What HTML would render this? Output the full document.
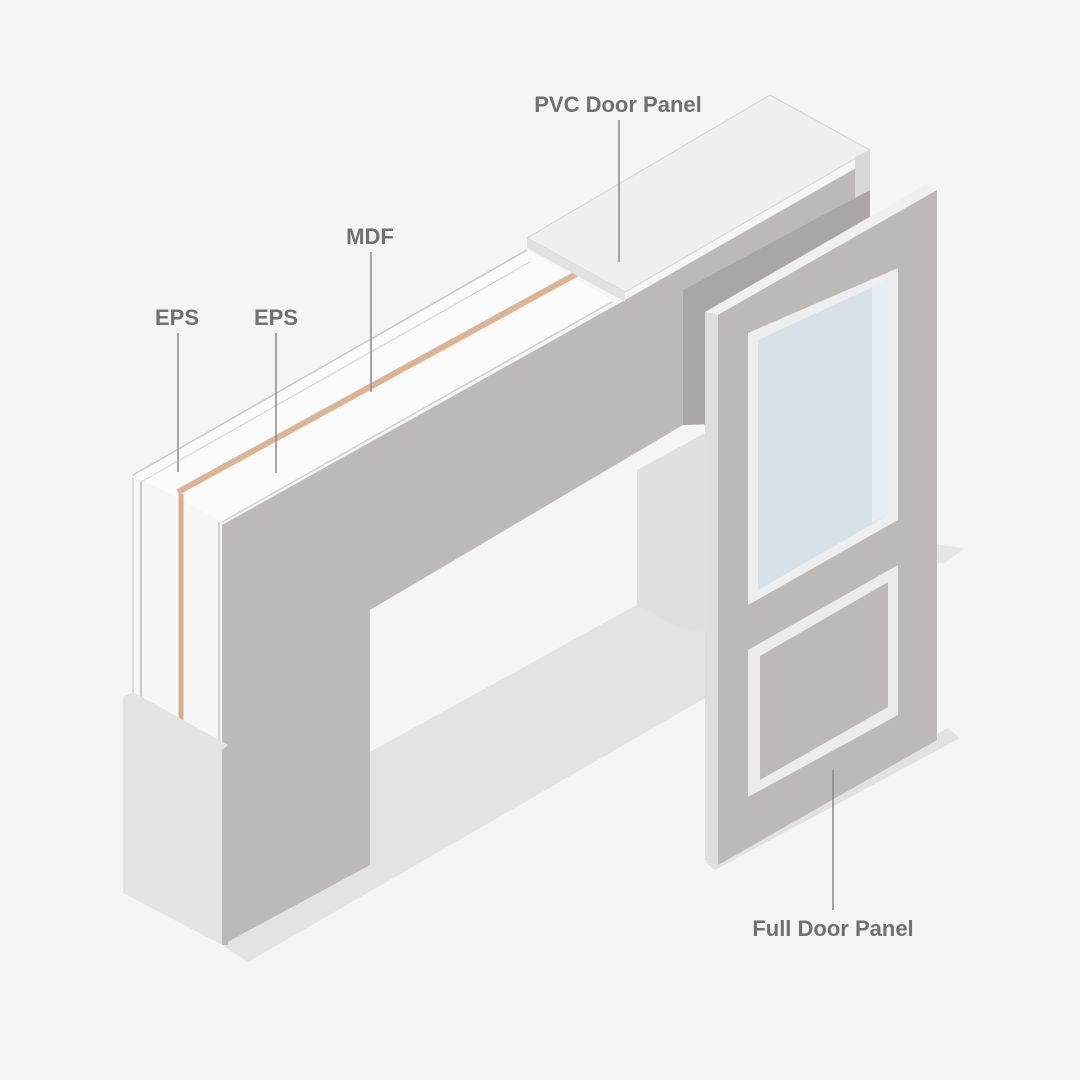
<!DOCTYPE html>
<html><head><meta charset="utf-8"><style>
html,body{margin:0;padding:0;background:#f5f5f5;}
svg{display:block}
text{font-family:"Liberation Sans",sans-serif;font-weight:bold;font-size:22px;fill:#707070;text-anchor:middle}
</style></head><body>
<svg width="1080" height="1080" viewBox="0 0 1080 1080">
<rect width="1080" height="1080" fill="#f5f5f5"/>
<!-- floor shadows -->
<polygon points="370,752 640,603 705,632 705,698 248,962 222,945 370,865" fill="#e3e3e3"/>
<polygon points="715,870 960,738 948,728 705,862" fill="#e2e2e2"/>
<polygon points="900,540 965,548 945,563 900,562" fill="#e6e6e6"/>
<!-- right post side -->
<polygon points="637,470 705,433 705,632 680,628 637,605" fill="#e0e0e0"/>
<!-- header right block side darker -->
<polygon points="683,290 870,188 870,420 683,425" fill="#aaa6a6"/>
<!-- main gray front face -->
<polygon points="222,525 625,300 870,160 870,190 683,290 683,425 370,610 370,865 222,945" fill="#bdb9b9"/>
<!-- lintel top face -->
<polygon points="133,475 527,250 612,300 222,522" fill="#fbfbfb"/>
<line x1="133" y1="475" x2="527" y2="250" stroke="#c8c8c8" stroke-width="1.5"/>
<line x1="141" y1="482" x2="530" y2="262" stroke="#d0d0d0" stroke-width="1"/>
<line x1="222" y1="522" x2="612" y2="302" stroke="#d0d0d0" stroke-width="1.5"/>
<line x1="178" y1="492" x2="578" y2="273" stroke="#dcb393" stroke-width="6"/>
<!-- left end face -->
<polygon points="133,478 222,522 222,750 133,700" fill="#f7f7f7"/>
<line x1="141" y1="482" x2="141" y2="700" stroke="#b8b8b8" stroke-width="1.5"/>
<line x1="181" y1="494" x2="181" y2="722" stroke="#d9ae8c" stroke-width="5"/>
<line x1="219" y1="522" x2="219" y2="745" stroke="#c0c0c0" stroke-width="1.5"/>
<line x1="133" y1="478" x2="133" y2="700" stroke="#d0d0d0" stroke-width="1.5"/>
<!-- base block -->
<polygon points="123,697 133,692 228,745 228,755 222,945 123,893" fill="#e4e4e4"/>
<polygon points="222,750 228,745 228,945 222,945" fill="#bdb9b9"/>
<!-- PVC panel top -->
<polygon points="527,238 770,95 870,150 625,292" fill="#efefef" stroke="#d4d4d4" stroke-width="1"/>
<polygon points="527,238 625,292 625,302 527,248" fill="#e2e2e2"/>
<polygon points="855,157 870,150 870,190 855,198" fill="#d8d8d8"/>
<!-- door -->
<polygon points="705,312 925,185 937,190 718,315" fill="#f0f0f0"/>
<polygon points="705,312 718,315 718,865 705,860" fill="#dedede"/>
<polygon points="718,315 937,190 937,740 718,865" fill="#bdb9b9"/>
<!-- glass -->
<polygon points="748,333 898,268 898,520 748,605" fill="#eeeeee"/>
<polygon points="758,340 888,280 888,515 758,590" fill="#d6e1e8"/>
<polygon points="872,287 888,280 888,515 872,523" fill="#e5eef4"/>
<!-- lower panel -->
<polygon points="748,650 898,565 898,715 748,797" fill="#ececec"/>
<polygon points="760,656 888,582 888,707 760,780" fill="#bdb9b9"/>
<!-- leader lines -->
<g stroke="#8a8a8a" stroke-width="1.5">
<line x1="178" y1="333" x2="178" y2="472"/>
<line x1="276" y1="333" x2="276" y2="473"/>
<line x1="371" y1="252" x2="371" y2="392"/>
<line x1="619" y1="120" x2="619" y2="262"/>
<line x1="833" y1="770" x2="833" y2="910"/>
</g>
<text x="177" y="325">EPS</text>
<text x="276" y="325">EPS</text>
<text x="370" y="244">MDF</text>
<text x="618" y="112">PVC Door Panel</text>
<text x="833" y="936">Full Door Panel</text>
</svg>
</body></html>
